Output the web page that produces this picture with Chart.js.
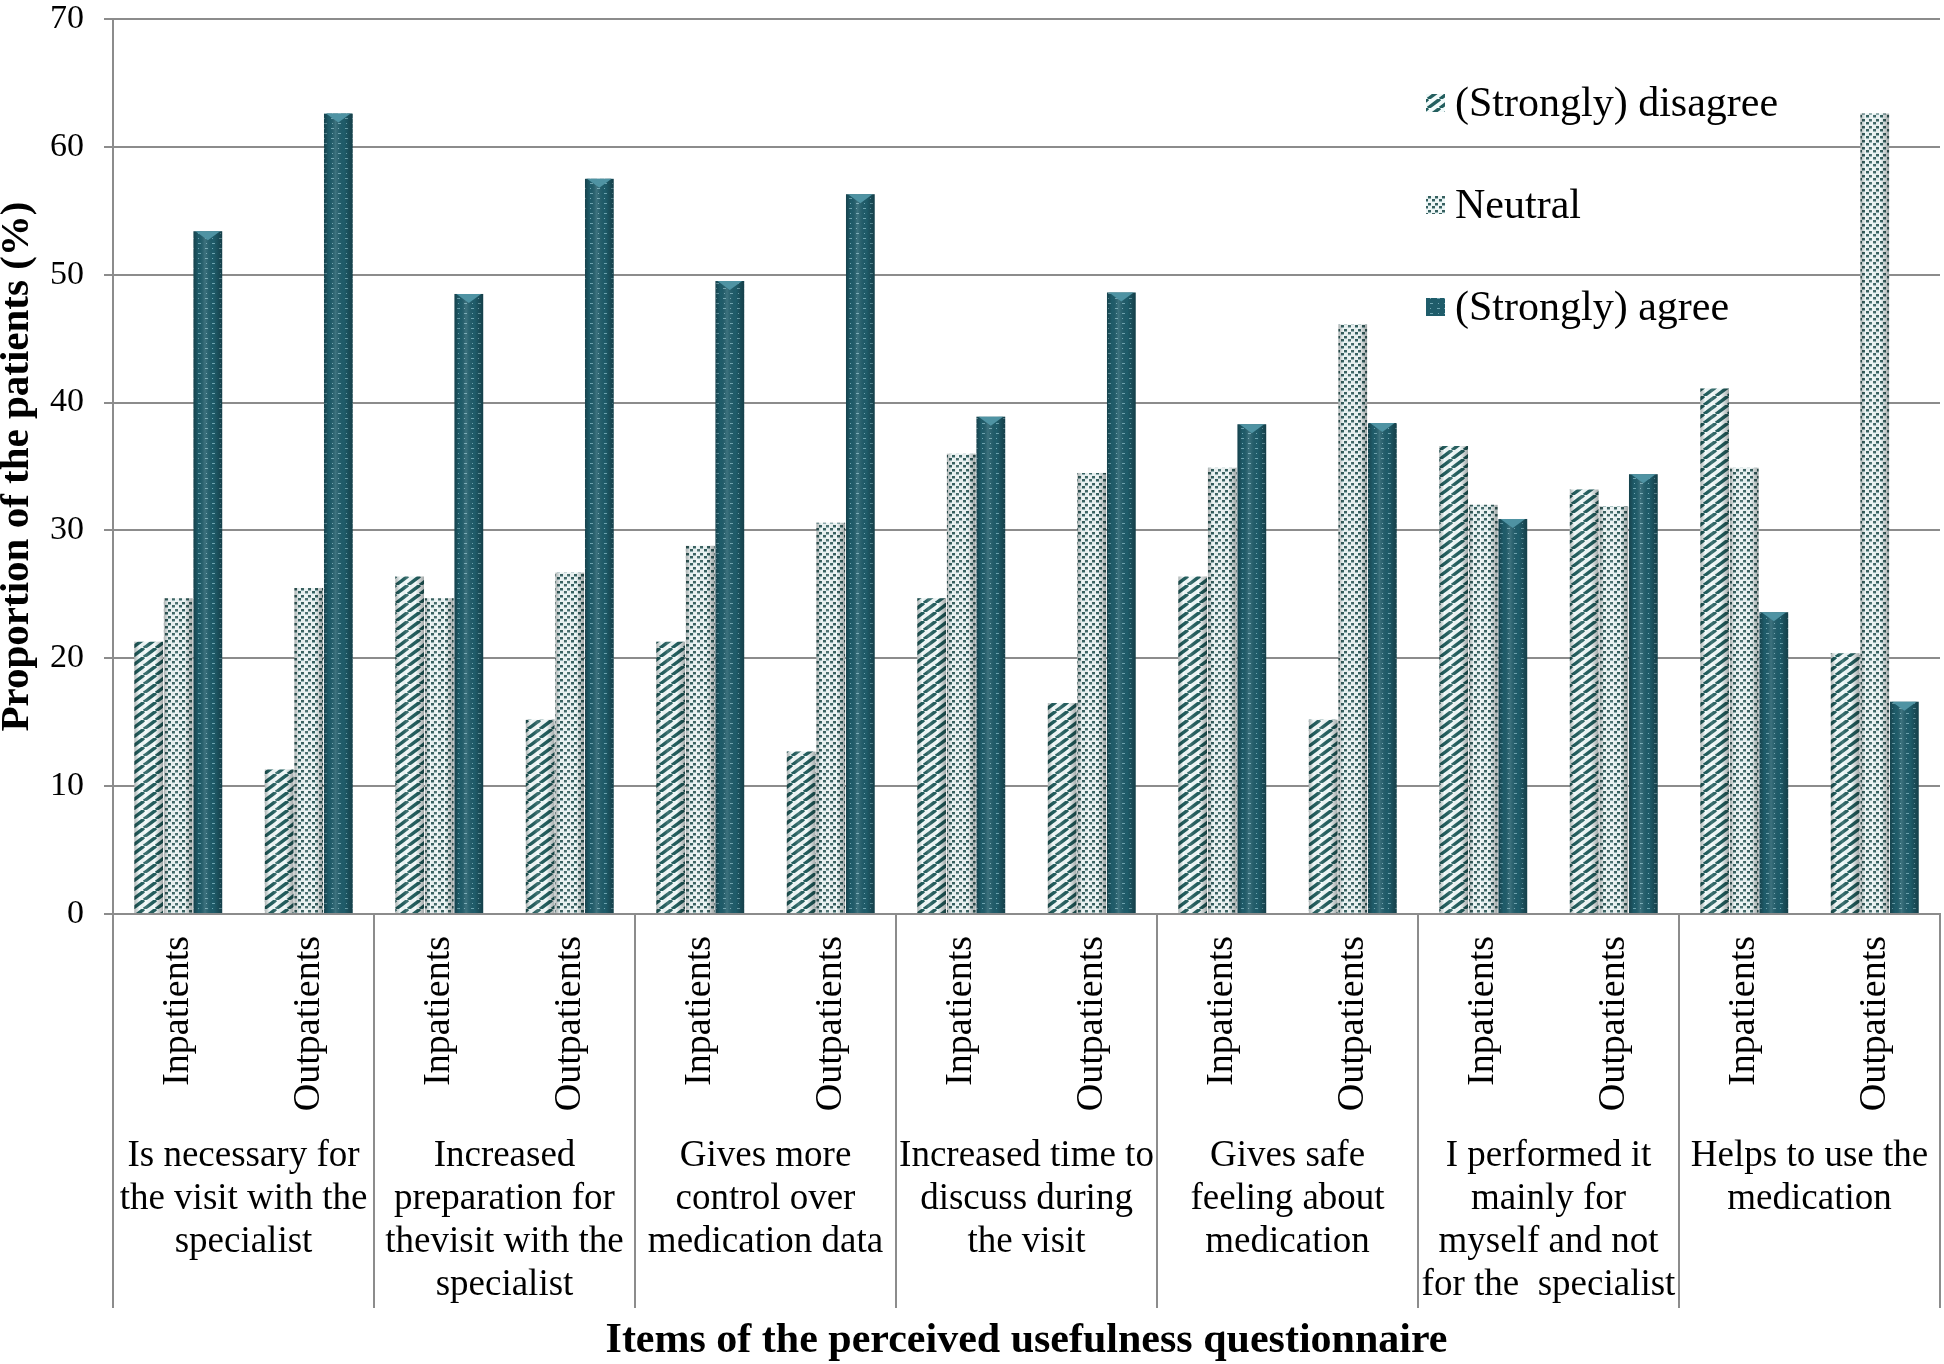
<!DOCTYPE html>
<html>
<head>
<meta charset="utf-8">
<script src="https://cdn.jsdelivr.net/npm/chart.js@4"></script>
<style>
    html, body { margin: 0; padding: 0; background: #fff; }
    #wrap { width: 1944px; height: 1364px; }
</style>
</head>
<body>
<div id="wrap"><canvas id="chart" width="1944" height="1364"></canvas></div>
<script>
// questionnaire items (multi-line labels, as in the original figure)
const groupLabels = [
    ['Is necessary for', 'the visit with the', 'specialist'],
    ['Increased', 'preparation for', 'thevisit with the', 'specialist'],
    ['Gives more', 'control over', 'medication data'],
    ['Increased time to', 'discuss during', 'the visit'],
    ['Gives safe', 'feeling about', 'medication'],
    ['I performed it', 'mainly for', 'myself and not', 'for the  specialist'],
    ['Helps to use the', 'medication'],
];
const patientTypes = ['Inpatients', 'Outpatients'];

const seriesNames = ['(Strongly) disagree', 'Neutral', '(Strongly) agree'];

// % of patients, order: item1 In, item1 Out, item2 In, ...
const disagree = [21.3, 11.3, 26.4, 15.2, 21.3, 12.7, 24.7, 16.5, 26.4, 15.2, 36.6, 33.2, 41.1, 20.4];
const neutral = [24.7, 25.5, 24.7, 26.7, 28.8, 30.6, 36.0, 34.5, 34.9, 46.1, 32.0, 31.9, 34.9, 62.6];
const agree = [53.4, 62.6, 48.5, 57.5, 49.5, 56.3, 38.9, 48.6, 38.3, 38.4, 30.9, 34.4, 23.6, 16.6];

const yTicks = [0, 10, 20, 30, 40, 50, 60, 70];

const categories = groupLabels.flatMap(() => patientTypes);

const SERIF = '"Liberation Serif", "Times New Roman", serif';
const GRID = '#8c8c8c';

function makeTile(w, h, draw) {
    const c = document.createElement('canvas');
    c.width = w;
    c.height = h;
    draw(c.getContext('2d'));
    return document.createElement('canvas').getContext('2d').createPattern(c, 'repeat');
}

// diagonal stripes
const stripeFill = makeTile(12, 9, (g) => {
    g.fillStyle = '#f2fafa';
    g.fillRect(0, 0, 12, 9);
    g.strokeStyle = '#235e5e';
    g.lineWidth = 3.4;
    g.beginPath();
    for (let x = -12; x <= 24; x += 12) {
        g.moveTo(x - 12, 9);
        g.lineTo(x, 0);
    }
    g.stroke();
});

// speckled dots
const dotFill = makeTile(7, 7, (g) => {
    g.fillStyle = '#eef6f6';
    g.fillRect(0, 0, 7, 7);
    g.fillStyle = '#37605f';
    g.fillRect(0, 0, 3, 2);
    g.fillRect(4, 3, 3, 2);
    g.fillStyle = '#8fb0b2';
    g.fillRect(0, 2, 3, 1);
    g.fillRect(4, 5, 3, 1);
});

// dark teal with small light dashes
const solidFill = makeTile(14, 10, (g) => {
    g.fillStyle = '#1f5c6a';
    g.fillRect(0, 0, 14, 10);
    g.fillStyle = '#6fa5b1';
    g.fillRect(2, 3, 3, 1);
    g.fillRect(10, 3, 1, 1);
    g.fillRect(2, 8, 1, 1);
    g.fillRect(9, 8, 3, 1);
});

const fills = [stripeFill, dotFill, solidFill];

// cylinder-ish shading on each bar, plus the light bevel on top of the dark bars
const barShade = {
    id: 'barShade',
    afterDatasetsDraw(chart) {
        const ctx = chart.ctx;
        chart.data.datasets.forEach((ds, i) => {
            chart.getDatasetMeta(i).data.forEach((bar) => {
                const left = bar.x - bar.width / 2;
                const right = bar.x + bar.width / 2;
                const grad = ctx.createLinearGradient(left, 0, right, 0);
                grad.addColorStop(0, 'rgba(0,0,0,0.28)');
                grad.addColorStop(0.18, 'rgba(0,0,0,0)');
                grad.addColorStop(0.4, 'rgba(255,255,255,0.14)');
                grad.addColorStop(0.7, 'rgba(0,0,0,0)');
                grad.addColorStop(1, 'rgba(0,0,0,0.32)');
                ctx.save();
                ctx.fillStyle = grad;
                ctx.fillRect(left, bar.y, bar.width, bar.base - bar.y);
                if (i === 2) {
                    ctx.fillStyle = '#4f93a3';
                    ctx.beginPath();
                    ctx.moveTo(left + 2, bar.y);
                    ctx.lineTo(right - 2, bar.y);
                    ctx.lineTo(bar.x, bar.y + 9);
                    ctx.closePath();
                    ctx.fill();
                }
                ctx.restore();
            });
        });
    },
};

// vertical separators between questionnaire items in the label area
const groupLines = {
    id: 'groupLines',
    afterDraw(chart) {
        const x = chart.scales.x;
        const ctx = chart.ctx;
        const top = chart.chartArea.bottom;
        const bottom = chart.height - 56;
        ctx.save();
        ctx.strokeStyle = GRID;
        ctx.lineWidth = 2;
        for (let k = 0; k <= groupLabels.length; k++) {
            const px = Math.round(x.getPixelForValue(k * 2 - 0.5));
            ctx.beginPath();
            ctx.moveTo(px, top);
            ctx.lineTo(px, bottom);
            ctx.stroke();
        }
        ctx.restore();
    },
};

// legend sits inside the plot, upper right
const innerLegend = {
    id: 'innerLegend',
    afterDraw(chart) {
        const ctx = chart.ctx;
        const area = chart.chartArea;
        const boxX = area.right - 514;
        const rows = [103, 205, 307];
        ctx.save();
        ctx.font = '42px ' + SERIF;
        ctx.textBaseline = 'middle';
        seriesNames.forEach((name, i) => {
            ctx.fillStyle = fills[i];
            ctx.fillRect(boxX, rows[i] - 9, 19, 18);
            ctx.fillStyle = '#000';
            ctx.fillText(name, boxX + 29, rows[i] + 2);
        });
        ctx.restore();
    },
};

new Chart(document.getElementById('chart'), {
    type: 'bar',
    data: {
        labels: categories,
        datasets: [
            { label: seriesNames[0], data: disagree, backgroundColor: stripeFill },
            { label: seriesNames[1], data: neutral, backgroundColor: dotFill },
            { label: seriesNames[2], data: agree, backgroundColor: solidFill },
        ],
    },
    options: {
        responsive: false,
        devicePixelRatio: 1,
        animation: false,
        categoryPercentage: 0.68,
        barPercentage: 0.97,
        layout: { padding: { top: 0, right: 4, left: 0, bottom: 0 } },
        plugins: {
            legend: { display: false },
            tooltip: { enabled: false },
        },
        scales: {
            x: {
                offset: true,
                grid: { display: false, drawTicks: false },
                border: { display: true, color: GRID, width: 2 },
                ticks: {
                    minRotation: 90,
                    maxRotation: 90,
                    autoSkip: false,
                    padding: 22,
                    color: '#000',
                    font: { family: SERIF, size: 38 },
                },
                afterFit(scale) { scale.height = 216; },
            },
            x2: {
                type: 'category',
                position: 'bottom',
                weight: 1,
                labels: groupLabels,
                offset: true,
                grid: { display: false, drawTicks: false },
                border: { display: false },
                ticks: {
                    maxRotation: 0,
                    minRotation: 0,
                    autoSkip: false,
                    padding: 5,
                    color: '#000',
                    font: { family: SERIF, size: 37, lineHeight: '43px' },
                },
                title: {
                    display: true,
                    text: 'Items of the perceived usefulness questionnaire',
                    color: '#000',
                    font: { family: SERIF, size: 42, weight: 'bold', lineHeight: 1.1 },
                    padding: 0,
                },
                afterFit(scale) { scale.height = 234; },
            },
            y: {
                min: 0,
                max: 70,
                afterBuildTicks(scale) { scale.ticks = yTicks.map((v) => ({ value: v })); },
                grid: { color: GRID, lineWidth: 2, tickLength: 9 },
                border: { display: true, color: GRID, width: 2 },
                ticks: {
                    padding: 20,
                    color: '#000',
                    font: { family: SERIF, size: 34 },
                },
                title: {
                    display: true,
                    text: 'Proportion of the patients (%)',
                    color: '#000',
                    font: { family: SERIF, size: 41, weight: 'bold', lineHeight: 0.85 },
                    padding: 0,
                },
                afterFit(scale) {
                    scale.width = 113;
                    scale.paddingTop = 19;
                    scale.paddingBottom = 0;
                },
            },
        },
    },
    plugins: [barShade, groupLines, innerLegend],
});
</script>
</body>
</html>
